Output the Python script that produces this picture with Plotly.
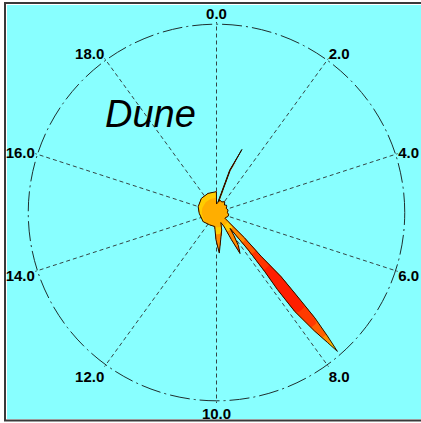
import plotly.graph_objects as go

# ---------------- data ----------------
PERIOD = 20.0                      # full turn of the angular axis (chart units)
tick_values = [0, 2, 4, 6, 8, 10, 12, 14, 16, 18]
tick_labels = ["0.0", "2.0", "4.0", "6.0", "8.0", "10.0", "12.0", "14.0", "16.0", "18.0"]

# outline of the rose (angle in chart units, radius in % of the outer circle)
profile_theta = [0.00, 0.40, 0.96, 1.22, 1.00, 0.62, 0.80, 1.50, 2.07, 2.60,
                 3.00, 3.36, 3.71, 4.30, 5.00, 5.60, 6.10, 6.60, 6.90, 7.11,
                 7.34, 7.47, 7.49, 7.55, 7.61, 7.67, 7.72, 7.75, 7.80, 7.87,
                 7.87, 7.82, 7.76, 7.74, 7.95, 8.14, 8.34, 8.40, 8.43, 8.70,
                 9.08, 9.52, 9.78, 10.06, 10.27, 10.40, 11.58, 13.09, 14.86, 15.97,
                 17.39, 18.67, 19.88, 19.99]
profile_r = [4.5, 5.3, 23.5, 36.1, 23.5, 5.8, 6.8, 6.3, 7.2, 5.8,
             6.6, 6.2, 5.6, 6.3, 5.8, 6.6, 6.4, 5.5, 5.4, 7.9,
             20.1, 33.2, 48.5, 60.2, 76.5, 88.1, 97.8, 90.8, 81.8, 67.0,
             52.2, 40.6, 25.9, 11.1, 15.5, 21.1, 25.1, 16.4, 8.4, 5.8,
             9.7, 14.7, 21.6, 14.5, 9.3, 7.5, 7.5, 8.6, 9.2, 10.2,
             11.0, 11.1, 11.0, 11.0]

# colour bands by radius (upper edges) and their colours (inner -> outer)
band_edges = [7.9, 11.6, 21.1, 29.0, 39.6, 68.6, 79.2, 87.1, 92.3, 96.0]
band_colors = ["#FFAE00", "#FFCC00", "#FF8C00", "#FF5C00", "#FF3400", "#FF1E00",
               "#FF3A00", "#FF6000", "#FF9000", "#FFC000", "#FFE800"]

outer_circle = 100.0
title_text = "Dune"

# ---------------- figure ----------------
deg = 360.0 / PERIOD
theta_deg = [t * deg for t in profile_theta] + [profile_theta[0] * deg]
r_closed = profile_r + [profile_r[0]]

fig = go.Figure()

for k in range(len(band_colors) - 1, -1, -1):
    cap = band_edges[k] if k < len(band_edges) else None
    rr = [min(v, cap) if cap is not None else v for v in r_closed]
    fig.add_trace(go.Scatterpolar(
        r=rr, theta=theta_deg, mode="lines", fill="toself",
        fillcolor=band_colors[k], line=dict(width=0, color=band_colors[k]),
        hoverinfo="skip", showlegend=False))

fig.add_trace(go.Scatterpolar(
    r=r_closed, theta=theta_deg, mode="lines",
    line=dict(width=1, color="#201000"), hoverinfo="skip", showlegend=False))

BG = "#88FFFF"
L, T, W, H = 26, 22, 381, 381


def px(x):
    return (x - L) / W


def py(y):
    return 1 - (y - T) / H


fig.update_layout(
    width=421, height=423,
    margin=dict(l=L, r=421 - L - W, t=T, b=423 - T - H, pad=0),
    paper_bgcolor="white",
    plot_bgcolor=BG,
    showlegend=False,
    polar=dict(
        bgcolor=BG,
        domain=dict(x=[0, 1], y=[0, 1]),
        angularaxis=dict(
            rotation=90, direction="clockwise",
            tickmode="array", tickvals=[v * deg for v in tick_values], ticktext=tick_labels,
            ticks="", showline=False,
            showgrid=True, gridcolor="#354545", gridwidth=1, griddash="4px,3px",
            tickfont=dict(family="Liberation Sans", size=15, color="black", weight="bold"),
            layer="below traces",
        ),
        radialaxis=dict(
            range=[0, outer_circle * 1.012], tickmode="array", tickvals=[outer_circle],
            showticklabels=False, ticks="", showline=False,
            showgrid=True, gridcolor="#1f2f2f", gridwidth=1, griddash="20px,4px,2px,4px",
            layer="below traces",
        ),
    ),
    shapes=[
        dict(type="rect", xref="paper", yref="paper", layer="below",
             x0=px(5), x1=px(440), y0=py(3), y1=py(420.5),
             fillcolor="white", line=dict(color="#3a3a3a", width=2)),
        dict(type="rect", xref="paper", yref="paper", layer="below",
             x0=px(7), x1=px(440), y0=py(5), y1=py(419),
             fillcolor=BG, line=dict(width=0)),
    ],
    annotations=[
        dict(text=title_text, xref="paper", yref="paper",
             x=px(150.5), y=py(113.5), xanchor="center", yanchor="middle",
             showarrow=False,
             font=dict(family="Liberation Sans", size=38,
                       color="black", style="italic")),
    ],
)

fig.write_html("out.html", config={"displayModeBar": False},
               post_script="document.body.style.margin='0px';document.body.style.padding='0px';")
